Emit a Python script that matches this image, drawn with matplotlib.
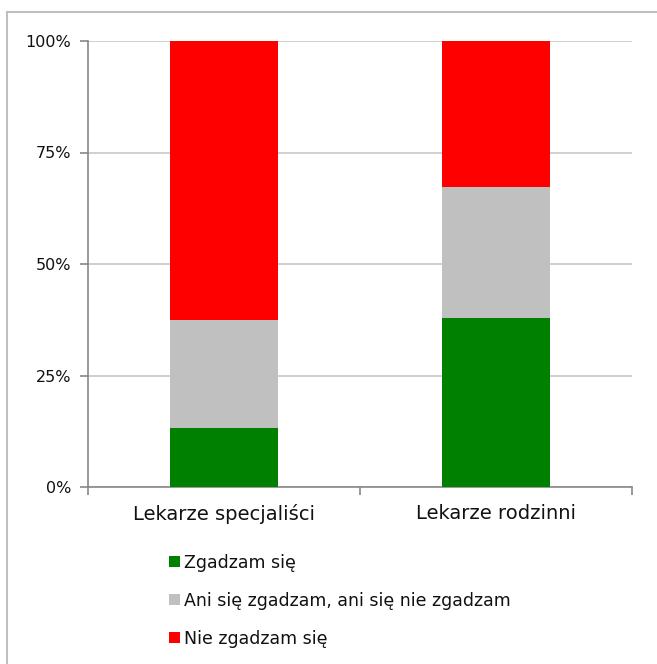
import matplotlib
matplotlib.use("Agg")
import matplotlib.pyplot as plt
from matplotlib.lines import Line2D
from matplotlib.patches import Patch
import numpy as np

plt.rcParams['font.family'] = ['DejaVu Sans']

categories = ["Lekarze specjaliści", "Lekarze rodzinni"]
series_names = ["Zgadzam się", "Ani się zgadzam, ani się nie zgadzam", "Nie zgadzam się"]
agree = [13.2, 37.9]
neutral = [24.2, 29.4]
disagree = [62.6, 32.7]
colors = ["#008000", "#C0C0C0", "#FF0000"]
yticks = [0, 25, 50, 75, 100]
ytick_labels = ["0%", "25%", "50%", "75%", "100%"]

W, H = 657, 664
fig = plt.figure(figsize=(W / 100, H / 100), dpi=100)
ax = fig.add_axes([88 / W, 1 - 487 / H, (632 - 88) / W, (487 - 41) / H])

x = np.arange(len(categories))
bottom = np.zeros(len(categories))
handles = []
for vals, c, name in zip([agree, neutral, disagree], colors, series_names):
    ax.bar(x, vals, width=0.4, bottom=bottom, color=c, zorder=3, linewidth=0)
    bottom += np.array(vals)
    handles.append(Patch(facecolor=c, edgecolor='none', label=name))

ax.set_xlim(-0.5, 1.5)
ax.set_ylim(0, 100)
ax.set_yticks(yticks)
ax.set_yticklabels(ytick_labels, fontsize=11.5, color="#111111")
ax.set_xticks(x)
ax.set_xticklabels(categories, fontsize=14, color="#111111")
ax.tick_params(axis='x', length=0, pad=12)
ax.tick_params(axis='y', length=6, color="#888888", width=1.2, pad=6)
# category boundary ticks on x-axis
ax.set_xticks([-0.5, 0.5, 1.5], minor=True)
ax.tick_params(axis='x', which='minor', length=6, color="#888888", width=1.2, direction='out')

ax.grid(axis='y', color="#C8C8C8", linewidth=1.2, zorder=0)
for s in ['top', 'right']:
    ax.spines[s].set_visible(False)
for s in ['left', 'bottom']:
    ax.spines[s].set_color("#888888")
    ax.spines[s].set_linewidth(1.2)

leg = fig.legend(handles=handles, loc='upper left',
                 bbox_to_anchor=(153 / W, 1 - 538 / H),
                 frameon=False, fontsize=12.5, handlelength=0.65, handleheight=0.65,
                 handletextpad=0.25, labelspacing=1.15)
for t in leg.get_texts():
    t.set_color("#111111")

# outer border (left and top)
fig.add_artist(Line2D([6.5 / W, 6.5 / W], [0, 1 - 11.5 / H], transform=fig.transFigure,
                      color="#BFBFBF", linewidth=1.5))
fig.add_artist(Line2D([6.5 / W, 1], [1 - 11.5 / H, 1 - 11.5 / H], transform=fig.transFigure,
                      color="#BFBFBF", linewidth=1.5))

fig.savefig("out.png", dpi=100)
